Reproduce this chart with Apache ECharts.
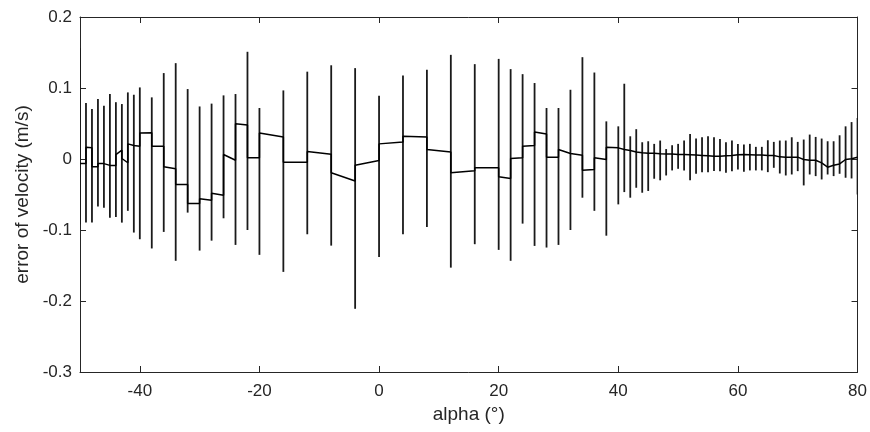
<!DOCTYPE html>
<html>
<head>
<meta charset="utf-8">
<script src="https://cdn.jsdelivr.net/npm/echarts@6/dist/echarts.min.js"></script>
<style>
html,body{margin:0;padding:0;background:#fff;}
#c{width:870px;height:432px;}
</style>
</head>
<body>
<div id="c"></div>
<script>
var alpha = [-50,-49,-48,-47,-46,-45,-44,-43,-42,-41,-40,-38,-36,-34,-32,-30,-28,-26,-24,-22,
  -20,-16,-12,-8,-4,0,4,8,12,16,20,22,24,26,28,30,32,34,36,38,
  40,41,42,43,44,45,46,47,48,49,50,51,52,53,54,55,56,57,58,59,60,
  61,62,63,64,65,66,67,68,69,70,71,72,73,74,75,76,77,78,79,80];
var upper = [0.156,0.079,0.0705,0.0845,0.075,0.0915,0.080,0.0774,0.0938,0.0905,0.1008,0.0868,0.121,0.135,0.0985,0.074,0.078,0.0896,0.0915,0.151,
  0.0718,0.0966,0.123,0.132,0.128,0.089,0.1177,0.1256,0.1467,0.1336,0.141,0.1266,0.1195,0.107,0.0718,0.0718,0.0975,0.1434,0.1218,0.053,
  0.046,0.106,0.032,0.042,0.0236,0.025,0.0213,0.026,0.014,0.0194,0.0213,0.026,0.0353,0.0288,0.0306,0.032,0.0306,0.0283,0.0236,0.026,0.0213,
  0.0204,0.0213,0.0171,0.0171,0.0264,0.0241,0.026,0.026,0.0306,0.0241,0.0274,0.0344,0.0311,0.0288,0.025,0.025,0.0334,0.046,0.052,0.0578];
var lower = [-0.092,-0.0896,-0.0896,-0.067,-0.0685,-0.0826,-0.0817,-0.0896,-0.073,-0.1036,-0.113,-0.126,-0.1027,-0.1434,-0.0755,-0.129,-0.115,-0.0835,-0.121,-0.1,
  -0.135,-0.159,-0.106,-0.122,-0.211,-0.138,-0.106,-0.0957,-0.153,-0.12,-0.128,-0.1434,-0.091,-0.1224,-0.1247,-0.121,-0.1,-0.0545,-0.073,-0.108,
  -0.0639,-0.0466,-0.0545,-0.0405,-0.0475,-0.045,-0.0278,-0.030,-0.0232,-0.0161,-0.0138,-0.0161,-0.030,-0.0208,-0.0185,-0.0185,-0.017,-0.0171,-0.0194,-0.0171,-0.0147,
  -0.018,-0.0161,-0.0161,-0.0161,-0.0185,-0.0124,-0.0204,-0.0232,-0.0218,-0.0171,-0.0372,-0.0218,-0.0241,-0.0288,-0.0218,-0.0241,-0.0208,-0.0264,-0.0274,-0.05];
// mean where the line arrives at each bar (from the left) and leaves it (to the right)
var meanLeft = [null,-0.0063,0.016,-0.011,-0.0065,-0.009,-0.009,0.0124,-0.0053,0.019,0.018,0.037,0.018,-0.0138,-0.0358,-0.0625,-0.058,-0.051,-0.0017,0.048,
  0.0016,0.031,-0.0045,0.0068,-0.031,-0.002,0.024,0.031,0.010,-0.0166,-0.0124,-0.0274,0.0016,0.019,0.0353,0.0026,0.0077,0.0054,-0.0147,-0.0007,
  0.0157,0.0133,0.012,0.010,0.0087,0.008,0.008,0.0075,0.0072,0.007,0.0065,0.0065,0.006,0.0055,0.005,0.0045,0.004,0.004,0.0045,0.005,0.006,
  0.0063,0.006,0.0055,0.0055,0.005,0.005,0.003,0.0026,0.0026,0.0026,-0.0007,-0.0017,-0.0017,-0.0054,-0.0115,-0.0087,-0.007,-0.0007,0.0003,0.0026];
var meanRight = [-0.0063,0.0166,-0.011,-0.0063,-0.007,-0.009,0.0063,0.0007,0.0213,0.018,0.0367,0.018,-0.011,-0.0358,-0.0625,-0.056,-0.0484,0.0063,0.0498,0.0016,
  0.0367,-0.0045,0.0105,-0.0194,-0.0087,0.0213,0.032,0.0133,-0.0194,-0.0124,-0.025,0.0007,0.018,0.038,0.0026,0.0133,0.0077,-0.0157,0.0016,0.0166,
  0.0133,0.0133,0.012,0.010,0.0087,0.008,0.008,0.0075,0.0072,0.007,0.0065,0.0065,0.006,0.0055,0.005,0.0045,0.004,0.004,0.0045,0.005,0.006,
  0.0063,0.006,0.0055,0.0055,0.005,0.005,0.003,0.0026,0.0026,0.0026,-0.0007,-0.0017,-0.0017,-0.0054,-0.0115,-0.0087,-0.007,-0.0007,0.0003,0.0026];
var xTicks = [-40,-20,0,20,40,60,80];
var yTicks = [-0.3,-0.2,-0.1,0,0.1,0.2];

var linePts = [];
for (var i = 0; i < alpha.length; i++) {
  if (i > 0) linePts.push([alpha[i], meanLeft[i]]);
  linePts.push([alpha[i], meanRight[i]]);
}
var barData = alpha.map(function (a, i) { return [a, lower[i], upper[i]]; });

var axisCol = '#262626';
var font = 'Liberation Sans, Arial, sans-serif';
var chart = echarts.init(document.getElementById('c'));
function yfmt(v) { var r = Math.round(v * 10) / 10; return r === 0 ? '0' : String(r); }
chart.setOption({
  animation: false,
  grid: { left: 80, right: 12, top: 17, bottom: 60, containLabel: false },
  xAxis: [{
    type: 'value', min: -50, max: 80,
    name: 'alpha (°)', nameLocation: 'middle', nameGap: 29,
    nameTextStyle: { color: axisCol, fontSize: 19, fontFamily: font },
    axisLine: { show: true, onZero: false, lineStyle: { color: axisCol, width: 1 } },
    axisTick: { show: true, inside: true, length: 6, customValues: xTicks, lineStyle: { color: axisCol } },
    axisLabel: { customValues: xTicks, color: axisCol, fontSize: 17, fontFamily: font, margin: 11 },
    splitLine: { show: false }
  }, {
    type: 'value', min: -50, max: 80, position: 'top',
    axisLine: { show: true, onZero: false, lineStyle: { color: axisCol, width: 1 } },
    axisTick: { show: true, inside: true, length: 6, customValues: xTicks, lineStyle: { color: axisCol } },
    axisLabel: { show: false }, splitLine: { show: false }
  }],
  yAxis: [{
    type: 'value', min: -0.3, max: 0.2, interval: 0.1,
    name: 'error of velocity (m/s)', nameLocation: 'middle', nameGap: 46,
    nameTextStyle: { color: axisCol, fontSize: 19, fontFamily: font },
    axisLine: { show: true, onZero: false, lineStyle: { color: axisCol, width: 1 } },
    axisTick: { show: true, inside: true, length: 6, lineStyle: { color: axisCol } },
    axisLabel: { color: axisCol, fontSize: 17, fontFamily: font, margin: 8, formatter: yfmt },
    splitLine: { show: false }
  }, {
    type: 'value', min: -0.3, max: 0.2, interval: 0.1, position: 'right',
    axisLine: { show: true, onZero: false, lineStyle: { color: axisCol, width: 1 } },
    axisTick: { show: true, inside: true, length: 6, lineStyle: { color: axisCol } },
    axisLabel: { show: false }, splitLine: { show: false }
  }],
  series: [{
    type: 'custom',
    xAxisIndex: 0, yAxisIndex: 0,
    data: barData,
    renderItem: function (params, api) {
      var p1 = api.coord([api.value(0), api.value(1)]);
      var p2 = api.coord([api.value(0), api.value(2)]);
      return {
        type: 'line',
        shape: { x1: p1[0], y1: p1[1], x2: p2[0], y2: p2[1] },
        style: { stroke: '#1a1a1a', lineWidth: 1.8 }
      };
    },
    clip: true, silent: true
  }, {
    type: 'line',
    xAxisIndex: 0, yAxisIndex: 0,
    data: linePts,
    showSymbol: false, symbol: 'none',
    lineStyle: { color: '#000', width: 1.5 },
    silent: true
  }]
});
</script>
</body>
</html>
